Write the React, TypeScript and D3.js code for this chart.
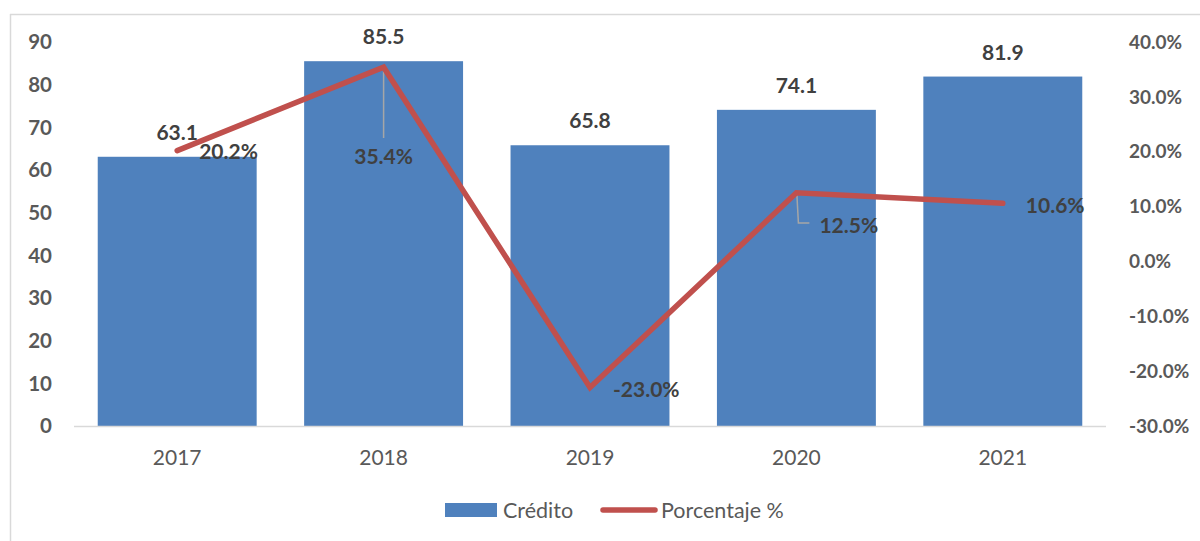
import React from "react";
import * as d3 from "d3";

const years = ["2017", "2018", "2019", "2020", "2021"];
const credito = [63.1, 85.5, 65.8, 74.1, 81.9];
const porcentaje = [20.2, 35.4, -23.0, 12.5, 10.6];
const leftTicks = [0, 10, 20, 30, 40, 50, 60, 70, 80, 90];
const rightTicks = [-30, -20, -10, 0, 10, 20, 30, 40];

const W = 1200;
const H = 541;
const FONT = "Lato, 'Open Sans', sans-serif";
const fmt1 = (v: number) => d3.format(".1f")(v).replace("\u2212", "-");

export default function App() {
  const x = d3.scaleBand<string>().domain(years).range([74, 1106]).paddingInner(0.23).paddingOuter(0.115);
  const yL = d3.scaleLinear().domain([0, 90]).range([426, 42]);
  const yR = d3.scaleLinear().domain([-30, 40]).range([426, 42]);
  const cx = (d: string) => (x(d) as number) + x.bandwidth() / 2;

  const line = d3
    .line<number>()
    .x((_, i) => cx(years[i]))
    .y((v) => yR(v));

  const pctLabelPos = [
    { dx: 22, dy: 8, anchor: "start" },
    { dx: 0, dy: 97, anchor: "middle" },
    { dx: 23, dy: 9, anchor: "start" },
    { dx: 23, dy: 40, anchor: "start" },
    { dx: 23, dy: 10, anchor: "start" },
  ];

  return (
    <svg width={W} height={H} style={{ position: "absolute", left: 0, top: 0, background: "#fff" }}>
      <rect x={0} y={0} width={W} height={H} fill="#fff" />
      <line x1={10} y1={14.5} x2={W} y2={14.5} stroke="#d9d9d9" strokeWidth={1.5} />
      <line x1={10.5} y1={14} x2={10.5} y2={H} stroke="#d9d9d9" strokeWidth={1.5} />

      {years.map((yr, i) => (
        <rect
          key={yr}
          x={x(yr)}
          y={yL(credito[i])}
          width={x.bandwidth()}
          height={yL(0) - yL(credito[i])}
          fill="#4F81BD"
        />
      ))}

      <line x1={74} y1={426.5} x2={1106} y2={426.5} stroke="#d9d9d9" strokeWidth={1.5} />

      {leftTicks.map((t) => (
        <text
          key={t}
          x={52}
          y={yL(t)}
          dy="0.35em"
          textAnchor="end"
          fontFamily={FONT}
          fontWeight={700}
          fontSize={20.5}
          fill="#595959"
        >
          {t}
        </text>
      ))}

      {rightTicks.map((t) => (
        <text
          key={t}
          x={1129}
          y={yR(t)}
          dy="0.35em"
          textAnchor="start"
          fontFamily={FONT}
          fontWeight={700}
          fontSize={19}
          fill="#595959"
        >
          {fmt1(t) + "%"}
        </text>
      ))}

      {years.map((yr) => (
        <text
          key={yr}
          x={cx(yr)}
          y={458}
          dy="0.35em"
          textAnchor="middle"
          fontFamily={FONT}
          fontSize={21}
          fill="#595959"
        >
          {yr}
        </text>
      ))}

      <line x1={cx("2018")} y1={yR(35.4) + 3} x2={cx("2018")} y2={138} stroke="#a6a6a6" strokeWidth={1.5} />
      <polyline
        points={`${cx("2020") + 0.5},${yR(12.5) + 2} ${cx("2020") + 2},${223} ${cx("2020") + 13},${223}`}
        fill="none"
        stroke="#a6a6a6"
        strokeWidth={1.5}
      />

      <path
        d={line(porcentaje) || ""}
        fill="none"
        stroke="#C0504D"
        strokeWidth={5.5}
        strokeLinecap="round"
        strokeLinejoin="miter"
      />

      {years.map((yr, i) => (
        <text
          key={yr}
          x={cx(yr)}
          y={yL(credito[i]) - 17}
          textAnchor="middle"
          fontFamily={FONT}
          fontWeight={700}
          fontSize={21}
          fill="#404040"
        >
          {fmt1(credito[i])}
        </text>
      ))}

      {years.map((yr, i) => (
        <text
          key={yr}
          x={cx(yr) + pctLabelPos[i].dx}
          y={yR(porcentaje[i]) + pctLabelPos[i].dy}
          textAnchor={pctLabelPos[i].anchor as any}
          fontFamily={FONT}
          fontWeight={700}
          fontSize={21}
          fill="#404040"
        >
          {fmt1(porcentaje[i]) + "%"}
        </text>
      ))}

      <rect x={445} y={503} width={52} height={14} fill="#4F81BD" />
      <text x={503} y={510} dy="0.35em" fontFamily={FONT} fontSize={21.5} fill="#595959">
        Crédito
      </text>
      <line x1={603} y1={510} x2={655} y2={510} stroke="#C0504D" strokeWidth={5.5} strokeLinecap="round" />
      <text x={661} y={510} dy="0.35em" fontFamily={FONT} fontSize={21.5} fill="#595959">
        Porcentaje %
      </text>
    </svg>
  );
}
